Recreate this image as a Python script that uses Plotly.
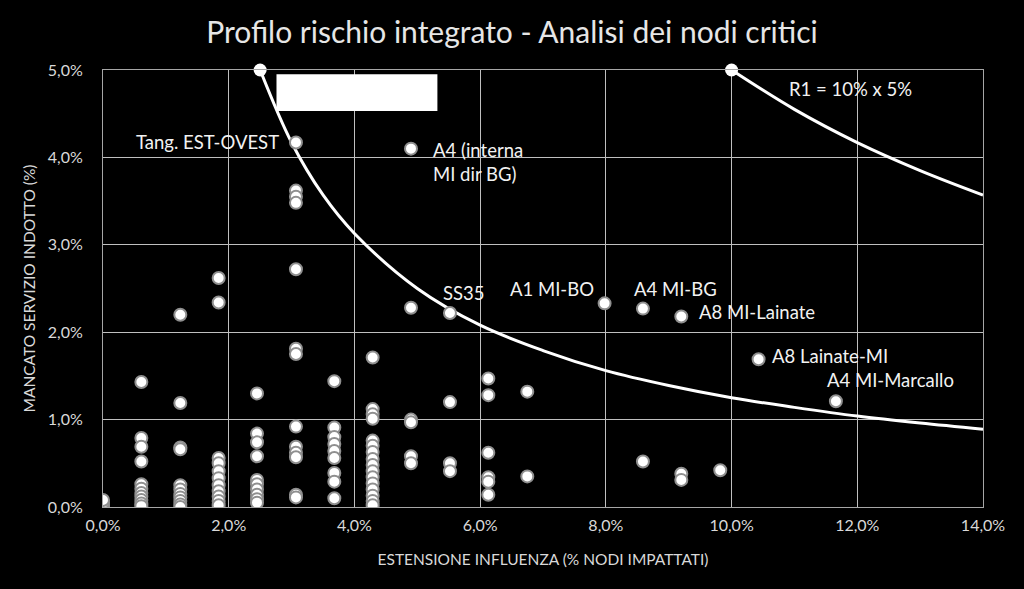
import plotly.graph_objects as go

# ---- data (percent units) ----
col_x = [0.0, 0.61, 1.23, 1.84, 2.45, 3.07, 3.68, 4.29, 4.9, 5.52, 6.13, 6.75, 7.98, 8.59, 9.2, 9.82, 10.43, 11.66]
col_y = [
    [0.0, 0.02, 0.05, 0.08],
    [1.43, 0.79, 0.69, 0.52, 0.26, 0.21, 0.16, 0.12, 0.08, 0.04, 0.01],
    [2.2, 1.19, 0.68, 0.66, 0.25, 0.2, 0.15, 0.11, 0.07, 0.03, 0.0],
    [2.62, 2.34, 0.56, 0.5, 0.41, 0.33, 0.25, 0.18, 0.12, 0.07, 0.02],
    [1.3, 0.84, 0.74, 0.58, 0.31, 0.26, 0.2, 0.14, 0.09, 0.05],
    [4.17, 3.62, 3.55, 3.48, 2.72, 1.81, 1.75, 0.92, 0.69, 0.62, 0.57, 0.14, 0.11],
    [1.44, 0.91, 0.8, 0.72, 0.64, 0.56, 0.39, 0.29, 0.1],
    [1.71, 1.12, 1.06, 1.01, 0.76, 0.7, 0.63, 0.55, 0.48, 0.41, 0.34, 0.27, 0.2, 0.13, 0.07, 0.02],
    [4.1, 2.28, 1.0, 0.97, 0.58, 0.5],
    [2.22, 1.2, 0.5, 0.41],
    [1.47, 1.28, 0.62, 0.34, 0.29, 0.14],
    [1.32, 0.35],
    [2.33],
    [2.27, 0.52],
    [2.18, 0.38, 0.31],
    [0.42],
    [1.69],
    [1.21],
]

# iso-risk curves
curve1_x = [2.5, 3.0, 3.5, 4.0, 5.0, 6.0, 7.0, 8.0, 9.0, 10.0, 11.0, 12.0, 13.0, 14.0]
curve1_y = [5.0, 4.17, 3.57, 3.13, 2.5, 2.08, 1.79, 1.56, 1.39, 1.25, 1.14, 1.04, 0.96, 0.89]
curve2_x = [10.0, 11.0, 12.0, 13.0, 14.0]
curve2_y = [5.0, 4.55, 4.17, 3.85, 3.57]

labels = ["Tang. EST-OVEST", "A4 (interna<br>MI dir BG)", "SS35", "A1 MI-BO", "A4 MI-BG",
          "A8 MI-Lainate", "A8 Lainate-MI", "A4 MI-Marcallo", "R1 = 10% x 5%"]
label_x = [2.83, 5.22, 5.38, 6.44, 8.42, 9.45, 10.61, 11.49, 10.88]
label_y = [4.18, 4.23, 2.45, 2.49, 2.49, 2.23, 1.73, 1.45, 4.78]
label_anchor = ["right", "left", "left", "left", "left", "left", "left", "left", "left"]

xs, ys = [], []
for cx, cy in zip(col_x, col_y):
    for v in cy:
        xs.append(cx)
        ys.append(v)

fig = go.Figure()
fig.add_trace(go.Scatter(x=curve1_x, y=curve1_y, mode="lines", line=dict(color="white", width=3, shape="spline"),
                         hoverinfo="skip"))
fig.add_trace(go.Scatter(x=curve2_x, y=curve2_y, mode="lines", line=dict(color="white", width=3, shape="spline"),
                         hoverinfo="skip"))
fig.add_trace(go.Scatter(x=[curve1_x[0], curve2_x[0]], y=[curve1_y[0], curve2_y[0]], mode="markers",
                         marker=dict(color="white", size=13), cliponaxis=False))
fig.add_trace(go.Scatter(x=xs, y=ys, mode="markers",
                         marker=dict(color="white", size=12, line=dict(color="#8f8f8f", width=2))))

font_txt = "Lato, Calibri, sans-serif"
for t, x, y, a in zip(labels, label_x, label_y, label_anchor):
    fig.add_annotation(x=x, y=y, text=t, showarrow=False, xanchor=a, yanchor="middle" if "<br>" not in t else "top",
                       align="left", font=dict(family=font_txt, size=18.5, color="#f2f2f2"))

# white box (covered area)
fig.add_shape(type="rect", x0=2.76, x1=5.32, y0=4.53, y1=4.95, fillcolor="white", line=dict(width=0))

tick_font = dict(family=font_txt, size=16, color="#d9d9d9")
title_font = dict(family=font_txt, size=15.5, color="#d9d9d9")
fig.update_layout(
    width=1024, height=589,
    paper_bgcolor="black", plot_bgcolor="black",
    showlegend=False,
    separators=",.",
    margin=dict(l=103, r=41, t=70, b=82),
    title=dict(text="Profilo rischio integrato - Analisi dei nodi critici", x=0.5, xanchor="center",
               y=0.944, yanchor="middle", font=dict(family=font_txt, size=30, color="#e6e6e6")),
    xaxis=dict(range=[0, 14], dtick=2, tickformat=".1f", ticksuffix="%", showgrid=True,
               gridcolor="#bfbfbf", gridwidth=1, zeroline=False, showline=True, linecolor="#a6a6a6",
               mirror=True, tickfont=tick_font, ticks="", ticklabelstandoff=4,
               title=dict(text="ESTENSIONE INFLUENZA (% NODI IMPATTATI)", font=title_font, standoff=20)),
    yaxis=dict(range=[0, 5], dtick=1, tickformat=".1f", ticksuffix="%", showgrid=True,
               gridcolor="#bfbfbf", gridwidth=1, zeroline=False, showline=True, linecolor="#a6a6a6",
               mirror=True, tickfont=tick_font, ticks="", ticklabelstandoff=16,
               title=dict(text="MANCATO SERVIZIO INDOTTO (%)", font=title_font, standoff=8)),
)

fig.write_html("out.html", config={"displayModeBar": False},
               post_script="document.body.style.margin='0';document.body.style.background='black';")
